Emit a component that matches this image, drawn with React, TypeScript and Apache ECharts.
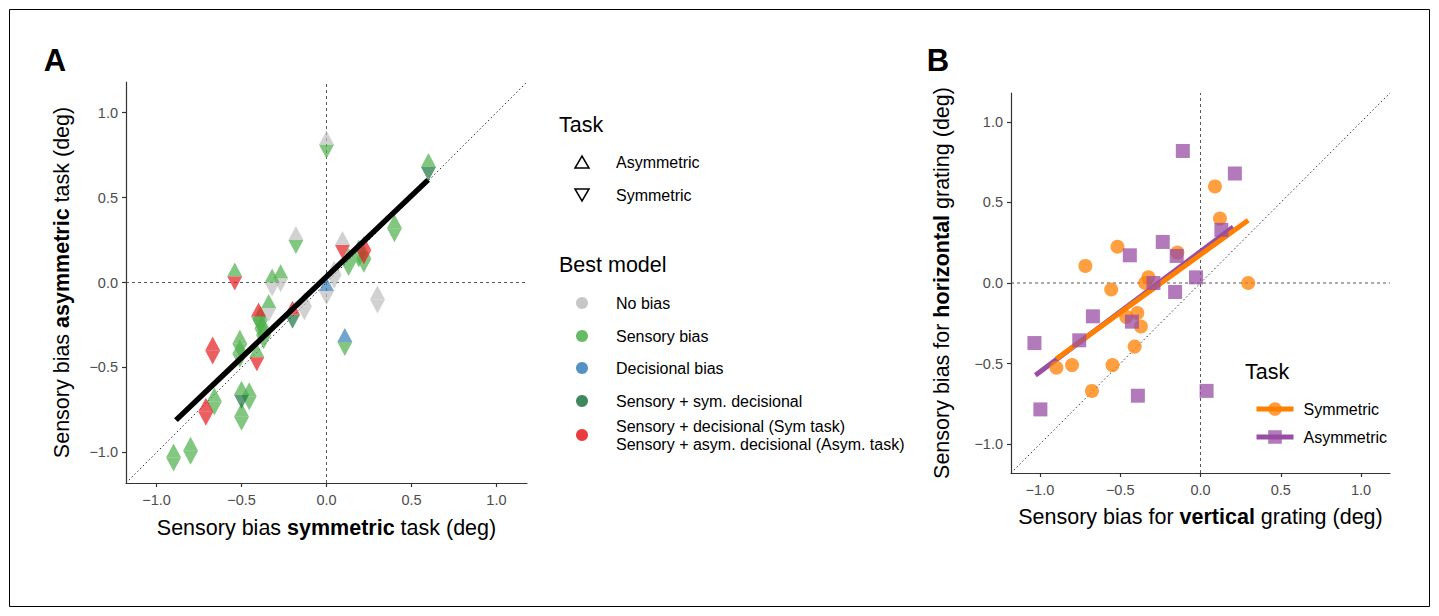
import React, { useEffect, useRef } from "react";
import * as echarts from "echarts";

const FONT = "'Liberation Sans', Arial, Helvetica, sans-serif";
const TICKS = [-1, -0.5, 0, 0.5, 1];
const AXIS_MIN = -1.18;
const AXIS_MAX = 1.18;

// ---------- Panel A ----------
const symTaskBias = [0.0, -0.18, -0.54, -0.32, -0.27, -0.34, -0.13, -0.2, 0.0, -0.4, -0.39, -0.38, -0.37, -0.51, -0.51, -0.41, -0.67, -0.66, -0.71, -0.5, -0.455, -0.5, -0.9, -0.8, 0.6, 0.4, 0.094, 0.22, 0.19, 0.13, 0.22, 0.045, 0.3, 0.108];
const asymTaskBias = [0.81, 0.25, 0.035, 0.0, 0.025, -0.15, -0.14, -0.19, -0.05, -0.2, -0.22, -0.27, -0.31, -0.36, -0.42, -0.44, -0.4, -0.7, -0.76, -0.66, -0.67, -0.79, -1.03, -0.99, 0.68, 0.32, 0.22, 0.19, 0.17, 0.12, 0.14, 0.045, -0.1, -0.35];
const asymTaskModel = ["N", "N", "S", "S", "S", "S", "N", "R", "D", "R", "S", "S", "S", "S", "S", "S", "R", "S", "R", "S", "S", "S", "S", "S", "S", "S", "N", "R", "S", "S", "S", "N", "N", "D"];
const symTaskModel = ["S", "S", "R", "N", "N", "N", "N", "SD", "N", "S", "S", "S", "S", "S", "S", "R", "R", "S", "R", "SD", "S", "S", "S", "S", "SD", "S", "R", "R", "S", "S", "S", "N", "N", "S"];
const fitAX = [-0.886, 0.598];
const fitAY = [-0.81, 0.604];

const modelKeys = ["N", "S", "D", "SD", "R"];
const modelLabels = [
  "No bias",
  "Sensory bias",
  "Decisional bias",
  "Sensory + sym. decisional",
  "Sensory + decisional (Sym task)\nSensory + asym. decisional (Asym. task)",
];
const modelColors = ["#BDBDBD", "#4DAF4A", "#377EB8", "#1B7340", "#E41A1C"];
const taskLabelsA = ["Asymmetric", "Symmetric"];

// ---------- Panel B ----------
const symVertical = [-0.517, -0.717, -0.144, -0.324, -0.345, -0.556, 0.09, 0.121, 0.297, -0.463, -0.393, -0.371, -0.41, -0.8, -0.897, -0.548, -0.676];
const symHorizontal = [0.225, 0.106, 0.189, 0.035, 0.0, -0.04, 0.6, 0.4, 0.0, -0.21, -0.186, -0.27, -0.395, -0.51, -0.526, -0.51, -0.67];
const asymVertical = [-0.11, -0.44, -0.235, -0.148, -0.293, -0.028, 0.214, 0.13, -0.158, -0.67, -0.427, -0.755, -1.034, -0.39, -0.997, 0.038];
const asymHorizontal = [0.82, 0.172, 0.255, 0.168, 0.0, 0.035, 0.68, 0.33, -0.056, -0.207, -0.24, -0.356, -0.373, -0.7, -0.785, -0.67];
const fitSymX = [-0.897, 0.297];
const fitSymY = [-0.47, 0.39];
const fitAsymX = [-1.028, 0.204];
const fitAsymY = [-0.573, 0.348];
const taskNamesB = ["Symmetric", "Asymmetric"];
const taskColorsB = ["#FF7F00", "#984EA3"];

const fmt = (v: number) => (v < 0 ? "\u2212" : "") + Math.abs(v).toFixed(1);

function makeAxis(gridIndex: number, isX: boolean, name: string, gap: number) {
  return {
    type: "value",
    gridIndex,
    min: AXIS_MIN,
    max: AXIS_MAX,
    name,
    nameLocation: "middle",
    nameGap: gap,
    nameTextStyle: {
      rich: {
        n: { fontSize: 21.5, fontFamily: FONT, color: "#000" },
        b: { fontSize: 21.5, fontFamily: FONT, color: "#000", fontWeight: "bold" },
      },
    },
    axisLine: { show: true, onZero: false, lineStyle: { color: "#333", width: 1.2 } },
    axisTick: { show: true, length: 4, lineStyle: { color: "#333", width: 1.2 }, customValues: TICKS },
    axisLabel: {
      customValues: TICKS,
      formatter: (v: number) => fmt(v),
      fontSize: 14.5,
      fontFamily: FONT,
      color: "#4D4D4D",
      margin: isX ? 9 : 8,
    },
    splitLine: { show: false },
  };
}

function refLines(idx: number) {
  const base = { type: "line", xAxisIndex: idx, yAxisIndex: idx, symbol: "none", silent: true, z: 1, legendHoverLink: false };
  return [
    { ...base, name: "ref-x-" + idx, data: [[0, AXIS_MIN], [0, AXIS_MAX]], lineStyle: { color: "#444", width: 0.9, type: [3, 3] } },
    { ...base, name: "ref-y-" + idx, data: [[AXIS_MIN, 0], [AXIS_MAX, 0]], lineStyle: { color: "#444", width: 0.9, type: [3, 3] } },
    { ...base, name: "ref-id-" + idx, data: [[AXIS_MIN, AXIS_MIN], [AXIS_MAX, AXIS_MAX]], lineStyle: { color: "#333", width: 1, type: [1.5, 2.5] } },
  ];
}

const UP = "path://M7.5,0L15,14L0,14Z";
const DOWN = "path://M0,0L15,0L7.5,14Z";

export default function App() {
  const ref = useRef<HTMLDivElement>(null);
  useEffect(() => {
    if (!ref.current) return;
    const chart = echarts.init(ref.current, null, { renderer: "svg" });

    const series: any[] = [...refLines(0), ...refLines(1)];

    // panel A triangles
    modelKeys.forEach((k, mi) => {
      const upData: number[][] = [];
      const downData: number[][] = [];
      symTaskBias.forEach((x, i) => {
        if (asymTaskModel[i] === k) upData.push([x, asymTaskBias[i]]);
        if (symTaskModel[i] === k) downData.push([x, asymTaskBias[i]]);
      });
      const common = {
        type: "scatter",
        xAxisIndex: 0,
        yAxisIndex: 0,
        symbolSize: [15, 14],
        itemStyle: { color: modelColors[mi], opacity: 0.7 },
        z: 3,
      };
      series.push({ ...common, name: "A-up-" + k, symbol: UP, symbolOffset: [0, -7], data: upData });
      series.push({ ...common, name: "A-down-" + k, symbol: DOWN, symbolOffset: [0, 7], data: downData });
    });

    series.push({
      type: "line",
      name: "A-fit",
      xAxisIndex: 0,
      yAxisIndex: 0,
      symbol: "none",
      z: 4,
      data: fitAX.map((x, i) => [x, fitAY[i]]),
      lineStyle: { color: "#000", width: 5.5, cap: "butt" },
    });

    // panel B fit lines (asym under sym)
    series.push({
      type: "line",
      name: taskNamesB[1],
      xAxisIndex: 1,
      yAxisIndex: 1,
      symbol: "rect",
      showSymbol: false,
      z: 2,
      data: fitAsymX.map((x, i) => [x, fitAsymY[i]]),
      lineStyle: { color: taskColorsB[1], width: 5, cap: "butt" },
      itemStyle: { color: taskColorsB[1], opacity: 0.75 },
    });
    series.push({
      type: "line",
      name: taskNamesB[0],
      xAxisIndex: 1,
      yAxisIndex: 1,
      symbol: "circle",
      showSymbol: false,
      z: 2,
      data: fitSymX.map((x, i) => [x, fitSymY[i]]),
      lineStyle: { color: taskColorsB[0], width: 5, cap: "butt" },
      itemStyle: { color: taskColorsB[0], opacity: 0.75 },
    });
    series.push({
      type: "scatter",
      name: taskNamesB[0],
      xAxisIndex: 1,
      yAxisIndex: 1,
      symbol: "circle",
      symbolSize: 14,
      z: 3,
      data: symVertical.map((x, i) => [x, symHorizontal[i]]),
      itemStyle: { color: taskColorsB[0], opacity: 0.75 },
    });
    series.push({
      type: "scatter",
      name: taskNamesB[1],
      xAxisIndex: 1,
      yAxisIndex: 1,
      symbol: "rect",
      symbolSize: 14,
      z: 3,
      data: asymVertical.map((x, i) => [x, asymHorizontal[i]]),
      itemStyle: { color: taskColorsB[1], opacity: 0.75 },
    });

    // graphic: labels, legend A, border
    const g: any[] = [
      { type: "rect", shape: { x: 9.5, y: 9.5, width: 1420, height: 597 }, style: { fill: "none", stroke: "#000", lineWidth: 1 }, silent: true },
      { type: "text", x: 55, y: 60, style: { text: "A", font: `bold 31px ${FONT}`, fill: "#000", align: "center", verticalAlign: "middle" } },
      { type: "text", x: 938, y: 60, style: { text: "B", font: `bold 31px ${FONT}`, fill: "#000", align: "center", verticalAlign: "middle" } },
      { type: "text", x: 559, y: 125, style: { text: "Task", font: `21.5px ${FONT}`, fill: "#000", verticalAlign: "middle" } },
      { type: "polygon", shape: { points: [[575, 168], [589, 168], [582, 156]] }, style: { fill: "none", stroke: "#000", lineWidth: 1.5 } },
      { type: "text", x: 616, y: 162, style: { text: taskLabelsA[0], font: `16px ${FONT}`, fill: "#000", verticalAlign: "middle" } },
      { type: "polygon", shape: { points: [[575, 189], [589, 189], [582, 201]] }, style: { fill: "none", stroke: "#000", lineWidth: 1.5 } },
      { type: "text", x: 616, y: 195, style: { text: taskLabelsA[1], font: `16px ${FONT}`, fill: "#000", verticalAlign: "middle" } },
      { type: "text", x: 559, y: 265, style: { text: "Best model", font: `21.5px ${FONT}`, fill: "#000", verticalAlign: "middle" } },
      { type: "text", x: 1245, y: 372, style: { text: "Task", font: `21.5px ${FONT}`, fill: "#000", verticalAlign: "middle" } },
    ];
    const legendYs = [303, 336, 368, 401, 435];
    modelKeys.forEach((k, i) => {
      g.push({ type: "circle", shape: { cx: 582, cy: legendYs[i], r: 6 }, style: { fill: modelColors[i], opacity: 0.85 } });
      g.push({
        type: "text",
        x: 616,
        y: legendYs[i],
        style: { text: modelLabels[i], font: `16px ${FONT}`, fill: "#000", verticalAlign: "middle", lineHeight: 18 },
      });
    });

    chart.setOption({
      animation: false,
      backgroundColor: "#fff",
      grid: [
        { left: 126, top: 82, width: 401, height: 401 },
        { left: 1011, top: 93, width: 379, height: 380 },
      ],
      xAxis: [
        makeAxis(0, true, "{n|Sensory bias }{b|symmetric}{n| task (deg)}", 34),
        makeAxis(1, true, "{n|Sensory bias for }{b|vertical}{n| grating (deg)}", 33),
      ],
      yAxis: [
        makeAxis(0, false, "{n|Sensory bias }{b|asymmetric}{n| task (deg)}", 53),
        makeAxis(1, false, "{n|Sensory bias for }{b|horizontal}{n| grating (deg)}", 58),
      ],
      legend: {
        data: taskNamesB,
        orient: "vertical",
        left: 1249,
        top: 396,
        itemWidth: 37,
        itemHeight: 17,
        itemGap: 12,
        selectedMode: false,
        lineStyle: { width: 5 },
        textStyle: { fontSize: 16, fontFamily: FONT, color: "#000", padding: [0, 0, 0, 5] },
      },
      graphic: g,
      series,
    });
    return () => chart.dispose();
  }, []);
  return <div ref={ref} style={{ position: "absolute", left: 0, top: 0, width: 1439, height: 616 }} />;
}
